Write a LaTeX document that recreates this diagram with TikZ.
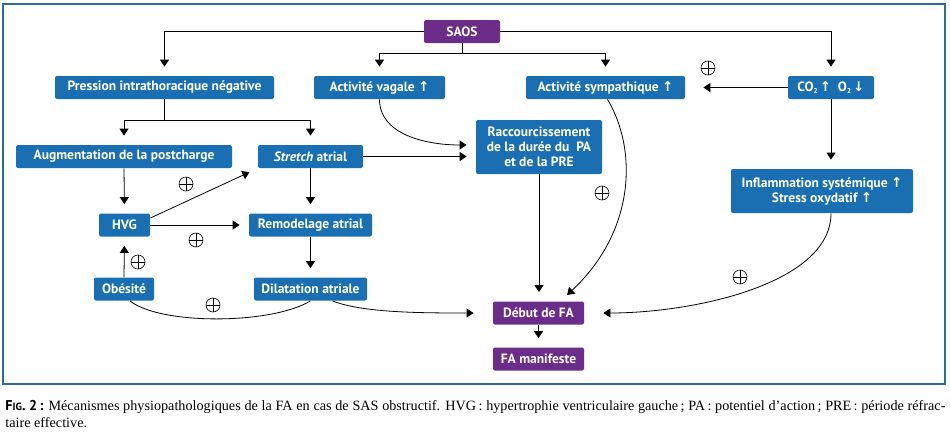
\documentclass[tikz,border=0pt]{standalone}
\usepackage{fontspec}
\setmainfont{Liberation Serif}
\newfontfamily\boitefont{PT Sans}
\newfontfamily\flechefont{DejaVu Sans}
\usetikzlibrary{arrows.meta}
\definecolor{bleuboite}{RGB}{26,111,179}
\definecolor{violetboite}{RGB}{107,44,138}
\definecolor{bleucadre}{RGB}{43,108,152}
\newcommand{\hausse}{{\flechefont\bfseries ↑}}
\newcommand{\baisse}{{\flechefont\bfseries ↓}}
\tikzset{
  boite/.style={fill=bleuboite, text=white, rounded corners=2pt, inner sep=2pt,
    font=\boitefont\bfseries\fontsize{13.5}{15}\selectfont, minimum height=23pt, align=center},
  boiteviolette/.style={boite, fill=violetboite},
  fleche/.style={-{Triangle[length=7pt,width=9pt]}, shorten >=9pt},
  signe/.style={circle, draw, line width=0.6pt, minimum size=14pt, inner sep=0pt,
    path picture={\draw[line width=0.6pt] (path picture bounding box.north) -- (path picture bounding box.south)
      (path picture bounding box.west) -- (path picture bounding box.east);}},
}
\begin{document}
\begin{tikzpicture}[x=1pt, y=-1pt, line width=0.8pt]
\useasboundingbox (0,0) rectangle (950,439);
\draw[bleucadre, line width=2pt] (3,4) rectangle (945,384);

\node[boiteviolette, minimum width=76pt] (saos) at (462,31.5) {SAOS};
\node[boite, minimum width=219pt] (pression) at (164.5,87.5) {Pression intrathoracique négative};
\node[boite, minimum width=131pt] (vagale) at (379.5,87.5) {Activité vagale \hausse};
\node[boite, minimum width=159pt] (sympa) at (605.5,87.5) {Activité sympathique \hausse};
\node[boite, minimum width=86pt] (gaz) at (831,87.5) {CO{\fontsize{7}{8}\selectfont\raisebox{-2pt}{2}}\,\hausse\ \ O{\fontsize{7}{8}\selectfont\raisebox{-2pt}{2}}\,\baisse};
\node[boite, minimum width=126pt, minimum height=54pt] (raccourc) at (539,147) {Raccourcissement\\de la durée du\ \ PA\\et de la PRE};
\node[boite, minimum width=216pt] (postcharge) at (124,156.5) {Augmentation de la postcharge};
\node[boite, minimum width=105pt] (stretch) at (310.5,156.5) {\textit{Stretch} atrial};
\node[boite, minimum width=182pt, minimum height=44pt] (inflam) at (822,191) {Inflammation systémique \hausse\\Stress oxydatif \hausse};
\node[boite, minimum width=51pt] (hvg) at (124.5,225) {HVG};
\node[boite, minimum width=123pt] (remodel) at (310.5,225) {Remodelage atrial};
\node[boite, minimum width=60pt] (obes) at (124,289) {Obésité};
\node[boite, minimum width=113pt] (dilat) at (310.5,289) {Dilatation atriale};
\node[boiteviolette, minimum width=91pt] (debut) at (538.5,313) {Début de FA};
\node[boiteviolette, minimum width=91pt] (manif) at (538.5,359) {FA manifeste};

\coordinate (fourche1) at (462,53);
\coordinate (fourche2) at (164.5,120);

\draw[fleche] (saos.west) -| (pression.north);
\draw (saos.south) -- (fourche1);
\draw[fleche] (fourche1) -| (vagale.north);
\draw[fleche] (fourche1) -| (sympa.north);
\draw[fleche] (saos.east) -| (gaz.north);
\draw[fleche, shorten >=18pt] (gaz.west) -- (sympa.east);
\draw[fleche] (gaz.south) -- (gaz.south |- inflam.north);
\draw (pression.south) -- (fourche2);
\draw[fleche] (fourche2) -| (postcharge.north);
\draw[fleche] (fourche2) -| (stretch.north);
\draw[fleche] (vagale.south) .. controls +(0,35) and +(-50,0) .. ([yshift=2pt]raccourc.west);
\draw[fleche] (stretch.east) -- (stretch.east -| raccourc.west);
\draw[fleche] (postcharge.south) -- (hvg.north);
\draw[fleche] (stretch.south) -- (remodel.north);
\draw[fleche] ([yshift=7pt]hvg.east) -- (stretch.south west);
\draw[fleche] (hvg.east) -- (remodel.west);
\draw[fleche] (obes.north) -- (hvg.south);
\draw[fleche] (remodel.south) -- (dilat.north);
\draw ([xshift=6pt]obes.south) .. controls +(30,24) and +(-40,24) .. (dilat.south);
\draw[fleche, shorten >=19pt] ([xshift=22pt]dilat.south) .. controls +(30,12) and +(-70,0) .. (debut.west);
\draw[fleche] (raccourc.south) -- (raccourc.south |- debut.north);
\draw[fleche] ([xshift=2pt]sympa.south) .. controls +(30,50) and +(75,-70) .. ([xshift=22pt]debut.north);
\draw[fleche, shorten >=19pt] ([xshift=9pt]inflam.south) .. controls +(0,70) and +(110,0) .. (debut.east);
\draw[fleche] (debut.south) -- (manif.north);

\node[signe] (s1) at (708,68) {};
\node[signe] (s2) at (186,184) {};
\node[signe] (s3) at (196,240) {};
\node[signe] (s4) at (138,262) {};
\node[signe] (s5) at (213,305) {};
\node[signe] (s6) at (602,193) {};
\node[signe] (s7) at (740,277) {};

\node[anchor=north west, inner sep=0pt, align=left, font=\fontsize{14.2}{17}\selectfont] (legende) at (5,400)
  {\makebox[940pt][s]{{\boitefont\bfseries F{\fontsize{10.5}{12}\selectfont IG}. 2\,:} Mécanismes physiopathologiques de la FA en cas de SAS obstructif. HVG\,: hypertrophie ventriculaire gauche\,; PA\,: potentiel d’action\,; PRE\,: période réfrac-}\\
  taire effective.};
\end{tikzpicture}
\end{document}
